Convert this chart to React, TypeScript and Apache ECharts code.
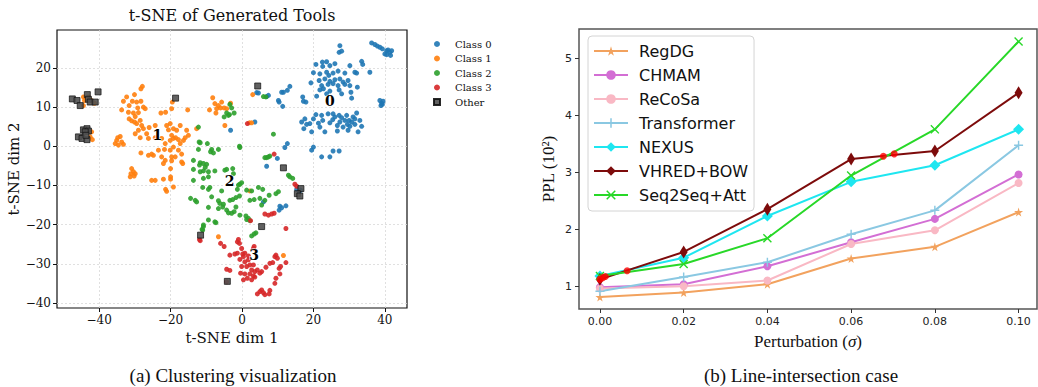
import React, { useEffect, useRef } from "react";
import * as echarts from "echarts";

// ---------- (a) t-SNE scatter data ----------
const classNames = ["Class 0", "Class 1", "Class 2", "Class 3", "Other"];

const class0 = [
  [36.3, 26.4], [37.2, 26.0], [37.9, 25.6], [38.6, 25.3], [39.3, 24.9], [40.5, 24.4], [40.9, 24.6], [41.4, 24.0], [40.5, 23.4], [41.6, 23.2], [41.9, 24.4], [40.0, 23.6],
  [27.4, 25.7], [27.2, 24.0], [27.9, 24.3],
  [20.7, 20.9], [22.5, 21.5], [23.7, 21.6], [22.6, 20.4], [24.6, 20.6], [26.0, 21.1], [30.2, 20.6], [33.5, 21.7], [33.8, 20.9],
  [20.0, 18.8], [21.8, 18.5], [23.7, 18.9], [24.3, 18.1], [25.5, 18.7], [26.9, 19.2], [28.8, 18.7], [31.6, 18.9], [32.1, 18.7],
  [19.3, 16.2], [21.6, 16.8], [23.2, 17.2], [24.6, 16.6], [26.0, 17.0], [27.4, 17.2], [28.3, 16.4], [29.7, 16.8],
  [22.3, 15.5], [24.1, 15.8], [25.5, 16.0], [26.9, 15.5], [28.8, 15.8], [30.2, 15.5], [32.3, 15.1],
  [21.8, 14.4], [22.8, 14.7], [24.6, 14.1], [27.2, 14.4], [27.9, 13.4], [30.5, 13.8], [35.8, 18.9], [20.9, 12.8], [23.7, 13.4], [30.7, 12.3],
  [13.4, 15.3], [12.7, 14.3], [11.6, 13.8], [17.0, 12.6], [17.2, 11.5], [17.9, 11.3], [11.4, 10.2],
  [38.6, 11.7], [39.1, 11.0], [39.5, 11.5], [39.3, 10.7], [38.9, 10.4],
  [4.1, 13.7], [4.6, 13.6], [6.9, 12.7], [7.4, 13.0], [10.2, 11.7], [10.4, 11.3], [11.1, 13.8], [3.6, 6.2], [-3.2, 4.1],
  [6.9, -5.1], [9.9, -3.1], [12.0, -0.3], [12.7, 0.7], [20.0, -0.2], [19.5, -1.0], [22.3, -2.7], [25.5, -1.2], [27.2, -1.2], [24.6, -2.7],
  [16.7, 6.2], [17.3, 4.5], [18.1, 5.6], [19.0, 5.8], [20.0, 7.0], [20.7, 8.1], [21.4, 5.9], [22.3, 7.9], [22.6, 6.6], [23.2, 3.7],
  [24.1, 8.3], [24.6, 6.0], [25.4, 6.8], [26.0, 7.5], [26.7, 5.3], [27.2, 7.9], [27.4, 6.2], [27.9, 7.3], [28.8, 6.6], [29.3, 7.9],
  [29.5, 5.6], [30.0, 6.6], [30.7, 6.2], [31.1, 7.5], [31.6, 7.0], [32.1, 8.5], [32.5, 3.7], [33.0, 6.6], [33.5, 5.1], [29.7, 4.1],
  [26.7, 3.9], [19.5, 3.7], [21.8, 4.9], [28.3, 4.9], [30.2, 5.1], [31.6, 5.6], [17.6, 7.0], [25.5, 8.3],
  [6.0, -14.2], [10.6, -15.3], [10.4, -16.3], [11.1, -15.7], [12.3, -15.2], [15.3, -11.0], [16.0, -11.6], [16.4, -11.2],
];

const class1 = [
  [-44.4, 12.6], [-44.1, 11.7], [-43.0, 12.6], [-42.5, 11.9], [-41.9, 11.5], [-41.3, 11.0], [-44.4, 10.4], [-42.1, 3.7], [-41.9, 1.7], [-42.5, 2.4],
  [-27.9, 15.3], [-28.3, 14.7], [-30.1, 13.2], [-32.3, 12.6], [-33.2, 11.5], [-31.6, 10.4], [-30.7, 11.5], [-29.5, 11.3], [-28.3, 11.5], [-29.2, 9.8],
  [-27.6, 10.0], [-27.1, 9.6], [-33.7, 9.3], [-31.8, 8.7], [-30.4, 8.5], [-29.0, 8.6], [-29.9, 7.6], [-31.6, 7.0], [-30.9, 6.5], [-30.1, 6.2],
  [-29.5, 5.8], [-28.5, 6.6], [-28.1, 5.3], [-27.6, 4.5], [-29.0, 4.1], [-26.0, 4.8], [-24.3, 5.3], [-26.7, 3.2], [-26.2, 2.0], [-28.5, 2.2],
  [-29.9, 3.2], [-34.1, 2.5], [-35.1, 1.5], [-35.5, 0.7], [-34.6, 0.3], [-33.7, 1.1], [-33.2, 0.5], [-34.8, 2.2],
  [-22.7, 8.5], [-21.4, 8.7], [-19.7, 9.6], [-19.5, 11.3], [-15.2, 9.3], [-20.1, 5.8], [-21.1, 5.3], [-20.6, 4.2], [-19.2, 4.5], [-18.3, 4.1],
  [-17.3, 5.3], [-18.6, 2.2], [-17.8, 1.7], [-19.2, 2.0], [-20.1, 1.5], [-19.7, 2.8], [-15.5, 4.1], [-15.0, 2.8], [-15.9, 2.2], [-16.4, 1.5],
  [-17.3, 0.7], [-19.2, -0.2], [-20.1, -1.0], [-17.8, -1.0], [-21.5, 0.7], [-22.5, 2.0], [-24.3, 2.2], [-23.4, -1.0], [-25.3, -2.0], [-26.2, -2.3],
  [-24.8, -2.3], [-22.5, -2.7], [-21.5, -3.6], [-19.7, -2.7], [-28.3, -1.7], [-16.9, -4.0], [-12.7, 4.5], [-21.7, -0.8],
  [-30.9, -5.7], [-30.4, -6.5], [-31.1, -7.0], [-30.2, -7.6], [-31.3, -7.8], [-29.9, -7.0], [-25.3, -8.7], [-24.3, -8.7], [-22.0, -8.4], [-21.4, -11.0],
  [-21.1, -11.5], [-20.0, -7.8], [-20.0, -8.4], [-20.0, -5.7], [-19.2, -10.4], [-19.7, -3.7], [-16.6, -4.4], [-16.9, -2.0], [-18.7, -2.7], [-22.0, -4.4],
  [-8.2, 12.4], [-7.6, 10.9], [-6.6, 10.4], [-7.1, 9.6], [-7.3, 8.5], [-6.0, 9.8], [-5.7, 11.3], [-5.0, 9.8], [-4.3, 9.6], [-3.2, 11.0],
  [-4.8, 5.3], [3.0, 13.2], [-9.1, 9.3],
  [2.2, -11.4], [-6.6, -23.1], [11.6, -27.9], [2.1, 6.0], [2.7, 6.0],
];

const class2 = [
  [-12.2, 4.9], [-4.3, 8.5], [-3.5, 8.1], [-2.2, 8.5], [-5.0, 7.5], [8.8, 3.1], [-0.7, 0.0], [-0.6, -0.3], [-11.7, 0.9], [-9.7, 0.7],
  [-8.5, -0.8], [-8.8, -1.4], [-8.0, -1.7], [-6.6, -0.8], [-13.6, -3.6], [-11.7, -4.2], [-11.9, -4.8], [-10.8, -4.4], [-10.3, -5.4], [-9.9, -4.6],
  [-13.6, -5.9], [-11.7, -6.5], [-10.8, -6.3], [-9.4, -6.5], [-7.6, -6.3], [-4.8, -6.1], [-4.3, -5.9], [-2.6, -5.7], [-2.4, -7.0], [-13.6, -8.7],
  [-10.8, -8.2], [-9.4, -7.8], [-11.0, -10.5], [-9.0, -10.5], [-9.4, -11.0], [-5.7, -11.4], [-14.4, -13.3], [-13.1, -13.8], [-12.7, -14.2], [-8.5, -12.9],
  [-6.6, -13.9], [-6.2, -14.6], [-5.2, -14.8], [-3.4, -13.8], [-2.6, -13.6], [-1.7, -13.1], [-0.7, -12.7], [-1.3, -11.0], [-0.6, -9.7], [-0.1, -9.3],
  [-1.0, -9.9], [1.3, -11.2], [2.7, -11.4], [4.6, -10.5], [5.8, -11.0], [5.0, -13.3], [6.4, -13.8], [5.5, -15.0], [7.6, -12.5], [9.5, -12.1],
  [10.2, -11.6], [-9.4, -15.6], [-6.6, -15.9], [-5.4, -15.5], [-4.3, -16.3], [-2.9, -17.1], [-3.8, -17.0], [-2.2, -16.7], [-1.7, -15.5], [-0.6, -17.6],
  [1.1, -17.8], [1.3, -18.7], [1.8, -18.4], [2.2, -19.0], [3.9, -22.1], [3.4, -22.4], [2.7, -22.9], [-10.8, -20.5], [-11.2, -21.2], [-9.4, -18.8],
  [-7.6, -19.3], [-7.3, -19.5], [6.4, -2.9], [7.4, -2.7], [7.8, -2.5], [13.0, -7.4], [13.4, -7.8], [14.2, -8.2], [2.2, -13.8], [3.4, -13.6],
  [-3.4, 10.7], [-2.9, 9.8], [-3.8, 7.9], [6.0, 12.7], [6.7, 12.6], [6.9, -2.9], [-12.0, 1.1], [-12.2, -0.8], [-10.8, -20.1], [-11.0, -21.4],
];

const class3 = [
  [-11.9, -23.8], [-11.7, -24.1], [12.3, -21.0], [-6.0, -24.8], [-5.0, -25.6], [-3.4, -27.8], [-2.0, -27.5], [-1.3, -24.4], [-0.7, -24.8], [-0.1, -26.1],
  [0.2, -27.5], [0.4, -28.2], [-0.6, -28.9], [0.8, -29.5], [1.8, -29.0], [2.2, -30.3], [3.2, -30.3], [-0.1, -30.7], [1.3, -30.7], [2.7, -31.6],
  [3.6, -32.0], [4.3, -31.6], [5.5, -32.0], [5.0, -32.4], [6.7, -30.9], [7.8, -29.9], [8.6, -29.7], [9.2, -28.2], [9.5, -27.8], [9.9, -28.6],
  [12.3, -29.7], [10.4, -31.2], [10.8, -30.7], [10.6, -32.6], [9.5, -33.7], [9.2, -35.0], [-4.3, -31.4], [-3.4, -31.7], [-0.4, -32.4], [0.8, -32.6],
  [2.2, -32.6], [3.2, -33.1], [3.6, -33.4], [2.7, -34.1], [0.4, -34.1], [-4.3, -34.6], [4.3, -37.7], [5.0, -37.1], [5.5, -36.7], [6.0, -37.4],
  [6.4, -37.9], [7.8, -36.8], [7.6, -37.7], [-1.3, -27.3], [0.8, -27.3], [1.8, -28.0], [1.5, -33.7], [3.2, -26.1], [3.4, -25.6],
  [6.4, -17.3], [7.4, -17.6], [8.3, -17.3], [9.0, -17.1], [2.4, -19.0], [14.8, -9.7], [15.3, -10.2], [9.0, -2.0], [1.5, 5.8], [-1.0, -23.8],
];

const other = [
  [-47.5, 12.1], [-46.2, 11.7], [-45.3, 10.4], [-43.3, 13.2], [-43.0, 12.0], [-42.5, 11.3], [-41.1, 11.3], [-40.3, 13.9],
  [-44.4, 4.2], [-43.4, 4.5], [-43.0, 3.9], [-43.9, 3.7], [-45.8, 2.4], [-44.8, 2.0], [-43.4, 1.7], [-43.7, 2.8],
  [-18.6, 12.3], [4.4, 15.4], [11.6, -5.5], [16.5, -10.8], [15.5, -12.1], [16.2, -12.7], [5.5, -20.5], [-11.6, -22.7], [-4.1, -34.5],
];

const clusterLabels = ["0", "1", "2", "3"];
const clusterCenters = [[24.6, 11.5], [-23.7, 3.0], [-3.5, -8.9], [3.4, -27.8]];

const tsneXTicks = [-40, -20, 0, 20, 40];
const tsneYTicks = [-40, -30, -20, -10, 0, 10, 20];

// ---------- (b) line chart data ----------
const perturbation = [0, 0.02, 0.04, 0.06, 0.08, 0.1];
const methodNames = ["RegDG", "CHMAM", "ReCoSa", "Transformer", "NEXUS", "VHRED+BOW", "Seq2Seq+Att"];
const regdg = [0.81, 0.89, 1.035, 1.485, 1.69, 2.3];
const chmam = [0.98, 1.035, 1.35, 1.77, 2.18, 2.96];
const recosa = [0.96, 1.0, 1.1, 1.74, 1.98, 2.81];
const transformer = [0.91, 1.16, 1.42, 1.91, 2.33, 3.47];
const nexus = [1.18, 1.5, 2.23, 2.83, 3.12, 3.75];
const vhred = [1.12, 1.6, 2.35, 3.23, 3.37, 4.39];
const seq2seq = [1.18, 1.39, 1.84, 2.94, 3.75, 5.29];
const intersections = [[0.0, 1.12], [0.0007, 1.15], [0.0013, 1.17], [0.0065, 1.27], [0.0677, 3.28], [0.0703, 3.32]];
const pertTicks = [0, 0.02, 0.04, 0.06, 0.08, 0.1];
const pplTicks = [1, 2, 3, 4, 5];

const STAR = "path://M50,0 L61,35 L98,35 L68,57 L79,91 L50,70 L21,91 L32,57 L2,35 L39,35 Z";
const PLUS = "path://M4.2,0H5.8V4.2H10V5.8H5.8V10H4.2V5.8H0V4.2H4.2Z";
const CROSS = "path://M1.1,0 L5,3.9 L8.9,0 L10,1.1 L6.1,5 L10,8.9 L8.9,10 L5,6.1 L1.1,10 L0,8.9 L3.9,5 L0,1.1 Z";

const SERIF = "DejaVu Serif";
const TIMES = "Liberation Serif";
const SANS = "DejaVu Sans";

const minus = (v: number) => (v < 0 ? "\u2212" + Math.abs(v) : String(v));

export default function App() {
  const ref = useRef<HTMLDivElement>(null);
  useEffect(() => {
    document.body.style.margin = "0";
    const chart = echarts.init(ref.current!, undefined, { renderer: "svg" });
    const tsneColors = ["#1f77b4", "#ff7f0e", "#2ca02c", "#d62728"];
    const tsneSets = [class0, class1, class2, class3];

    const lineDefs = [
      { name: "RegDG", vals: regdg, color: "#f2a25e", symbol: STAR, size: 9 },
      { name: "CHMAM", vals: chmam, color: "#d36ed4", symbol: "circle", size: 8 },
      { name: "ReCoSa", vals: recosa, color: "#f9b8c4", symbol: "circle", size: 8 },
      { name: "Transformer", vals: transformer, color: "#8ac8e2", symbol: PLUS, size: 9 },
      { name: "NEXUS", vals: nexus, color: "#1ee6f0", symbol: "diamond", size: 11 },
      { name: "VHRED+BOW", vals: vhred, color: "#7d0b0b", symbol: "diamond", size: [8, 13] },
      { name: "Seq2Seq+Att", vals: seq2seq, color: "#28d828", symbol: CROSS, size: 9 },
    ];

    const option: any = {
      animation: false,
      grid: [
        { left: 57, top: 30, width: 350, height: 278, show: true, borderColor: "#111", borderWidth: 1.2, backgroundColor: "transparent" },
        { left: 579, top: 29, width: 458, height: 280, show: true, borderColor: "#555", borderWidth: 1.5, backgroundColor: "transparent" },
      ],
      xAxis: [
        {
          gridIndex: 0, type: "value", min: -51.8, max: 46.2,
          name: "t-SNE dim 1", nameLocation: "middle", nameGap: 22,
          nameTextStyle: { fontFamily: SERIF, fontSize: 15, color: "#111" },
          axisLine: { show: false, onZero: false },
          axisTick: { show: true, customValues: tsneXTicks, length: 4, lineStyle: { color: "#111" } },
          axisLabel: { customValues: tsneXTicks, formatter: minus, fontFamily: SERIF, fontSize: 12, color: "#111", margin: 6 },
          splitLine: { show: true, lineStyle: { color: "#d8d8d8", type: [2, 2], width: 0.8 } },
        },
        {
          gridIndex: 1, type: "value", min: -0.005, max: 0.1044,
          name: "Perturbation ({i|σ})", nameLocation: "middle", nameGap: 24,
          nameTextStyle: { fontFamily: TIMES, fontSize: 17, color: "#111", rich: { i: { fontFamily: TIMES, fontSize: 17, fontStyle: "italic", color: "#111" } } },
          axisLine: { show: false, onZero: false },
          axisTick: { show: true, customValues: pertTicks, length: 4, lineStyle: { color: "#333" } },
          axisLabel: { customValues: pertTicks, formatter: (v: number) => v.toFixed(2), fontFamily: SANS, fontSize: 11, color: "#222", margin: 7 },
          splitLine: { show: false },
        },
      ],
      yAxis: [
        {
          gridIndex: 0, type: "value", min: -41.3, max: 29.7,
          name: "t-SNE dim 2", nameLocation: "middle", nameGap: 33,
          nameTextStyle: { fontFamily: SERIF, fontSize: 15, color: "#111" },
          axisLine: { show: false, onZero: false },
          axisTick: { show: true, customValues: tsneYTicks, length: 4, lineStyle: { color: "#111" } },
          axisLabel: { customValues: tsneYTicks, formatter: minus, fontFamily: SERIF, fontSize: 12, color: "#111", margin: 6 },
          splitLine: { show: true, lineStyle: { color: "#d8d8d8", type: [2, 2], width: 0.8 } },
        },
        {
          gridIndex: 1, type: "value", min: 0.6, max: 5.51,
          name: "PPL (10²)", nameLocation: "middle", nameGap: 22,
          nameTextStyle: { fontFamily: TIMES, fontSize: 17, color: "#111" },
          axisLine: { show: false, onZero: false },
          axisTick: { show: true, customValues: pplTicks, length: 4, lineStyle: { color: "#333" } },
          axisLabel: { customValues: pplTicks, fontFamily: SANS, fontSize: 11, color: "#222", margin: 7 },
          splitLine: { show: false },
        },
      ],
      legend: [
        {
          data: classNames, orient: "vertical", left: 428, top: 34,
          itemWidth: 6, itemHeight: 6, itemGap: 4.5,
          textStyle: { fontFamily: SERIF, fontSize: 10, color: "#111", padding: [0, 0, 0, 10] },
        },
        {
          data: methodNames, orient: "vertical", left: 588, top: 36,
          itemWidth: 34, itemHeight: 12, itemGap: 8,
          padding: [7, 6, 8, 5],
          borderColor: "#d4d4d4", borderWidth: 1, borderRadius: 4, backgroundColor: "rgba(255,255,255,0.85)",
          textStyle: { fontFamily: SANS, fontSize: 16, color: "#111", padding: [0, 0, 0, 6] },
        },
      ],
      graphic: [
        { type: "text", x: 232, y: 15, style: { text: "t-SNE of Generated Tools", font: `16px "${SERIF}"`, fill: "#111", align: "center", verticalAlign: "middle" } },
        { type: "text", x: 233, y: 375, style: { text: "(a) Clustering visualization", font: `19px "${TIMES}"`, fill: "#111", align: "center", verticalAlign: "middle" } },
        { type: "text", x: 801, y: 375, style: { text: "(b) Line-intersection case", font: `19px "${TIMES}"`, fill: "#111", align: "center", verticalAlign: "middle" } },
      ],
      series: [
        ...tsneSets.map((d, i) => ({
          name: classNames[i], type: "scatter", xAxisIndex: 0, yAxisIndex: 0,
          data: d, symbol: "circle", symbolSize: 5,
          itemStyle: { color: tsneColors[i], opacity: 0.9 },
        })),
        {
          name: "Other", type: "scatter", xAxisIndex: 0, yAxisIndex: 0,
          data: other, symbol: "rect", symbolSize: 6,
          itemStyle: { color: "#505050", opacity: 0.9, borderColor: "#111", borderWidth: 0.8 },
        },
        {
          name: "clusters", type: "scatter", xAxisIndex: 0, yAxisIndex: 0,
          data: clusterCenters.map((c, i) => ({ value: c, name: clusterLabels[i] })),
          symbolSize: 2, itemStyle: { color: "rgba(255,255,255,0)" }, z: 10,
          label: {
            show: true, position: "inside", formatter: (p: any) => p.name,
            fontFamily: SERIF, fontWeight: "bold", fontSize: 14, color: "#000", opacity: 1,
            textBorderColor: "rgba(255,255,255,0.85)", textBorderWidth: 1.5,
          },
        },
        ...lineDefs.map((s) => ({
          name: s.name, type: "line", xAxisIndex: 1, yAxisIndex: 1,
          data: perturbation.map((x, i) => [x, s.vals[i]]),
          symbol: s.symbol, symbolSize: s.size, showAllSymbol: true,
          lineStyle: { color: s.color, width: 2 },
          itemStyle: { color: s.color },
        })),
        {
          name: "intersections", type: "scatter", xAxisIndex: 1, yAxisIndex: 1,
          data: intersections, symbol: "circle", symbolSize: 7,
          itemStyle: { color: "#ff0000" }, z: 5,
        },
      ],
    };
    chart.setOption(option);
    return () => chart.dispose();
  }, []);
  return <div ref={ref} style={{ width: 1038, height: 387 }} />;
}
